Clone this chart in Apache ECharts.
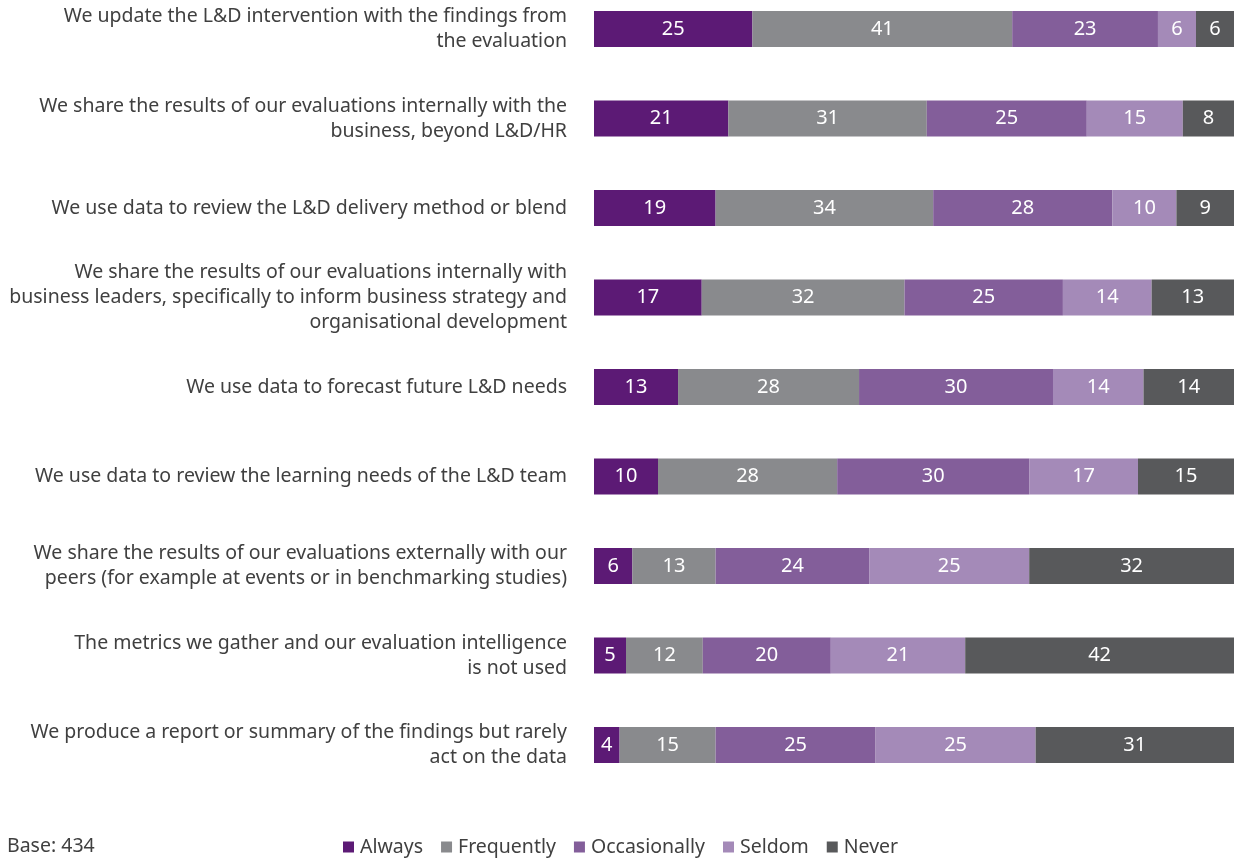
<!DOCTYPE html>
<html>
<head>
<meta charset="utf-8">
<script src="https://cdn.jsdelivr.net/npm/echarts@6/dist/echarts.min.js"></script>
<style>
  html, body { margin: 0; padding: 0; background: #fff; }
  #chart { width: 1234px; height: 859px; }
</style>
</head>
<body>
<div id="chart"></div>
<script>
const categories = [
  'We update the L&D intervention with the findings from\nthe evaluation',
  'We share the results of our evaluations internally with the\nbusiness, beyond L&D/HR',
  'We use data to review the L&D delivery method or blend',
  'We share the results of our evaluations internally with\nbusiness leaders, specifically to inform business strategy and\norganisational development',
  'We use data to forecast future L&D needs',
  'We use data to review the learning needs of the L&D team',
  'We share the results of our evaluations externally with our\npeers (for example at events or in benchmarking studies)',
  'The metrics we gather and our evaluation intelligence\nis not used',
  'We produce a report or summary of the findings but rarely\nact on the data'
]
const always = [25, 21, 19, 17, 13, 10, 6, 5, 4]
const frequently = [41, 31, 34, 32, 28, 28, 13, 12, 15]
const occasionally = [23, 25, 28, 25, 30, 30, 24, 20, 25]
const seldom = [6, 15, 10, 14, 14, 17, 25, 21, 25]
const never = [6, 8, 9, 13, 14, 15, 32, 42, 31]

const seriesNames = ['Always', 'Frequently', 'Occasionally', 'Seldom', 'Never']
const seriesData = [always, frequently, occasionally, seldom, never]
const colors = ['#5c1a75', '#898a8d', '#835e9a', '#a48ab8', '#58595b']

// each row is drawn as a 100% bar, labels keep the rounded values
const rowTotals = categories.map((c, i) => seriesData.reduce((s, arr) => s + arr[i], 0))

const font = 'Noto Sans'

const chart = echarts.init(document.getElementById('chart'))
chart.setOption({
  animation: false,
  color: colors,
  grid: { left: 594, right: 0, top: 29, bottom: 114 },
  legend: {
    data: seriesNames,
    left: 338,
    top: 832,
    itemWidth: 11,
    itemHeight: 11,
    itemGap: 18,
    icon: 'rect',
    textStyle: { fontFamily: font, fontSize: 19.5, color: '#404040', padding: [0, 0, 0, 1] }
  },
  graphic: [{
    type: 'text',
    left: 7,
    top: 836,
    style: { text: 'Base: 434', fontFamily: font, fontSize: 19.5, fill: '#404040' }
  }],
  xAxis: {
    type: 'value',
    min: 0,
    max: 100,
    show: false
  },
  yAxis: {
    type: 'category',
    inverse: true,
    boundaryGap: false,
    data: categories,
    axisLine: { show: false },
    axisTick: { show: false },
    axisLabel: {
      margin: 27,
      fontFamily: font,
      fontSize: 19.5,
      lineHeight: 25,
      color: '#404040',
      align: 'right'
    }
  },
  series: seriesNames.map((name, k) => ({
    name,
    type: 'bar',
    stack: 'all',
    barWidth: 36,
    data: seriesData[k].map((v, i) => ({ value: v / rowTotals[i] * 100, raw: v })),
    label: {
      show: true,
      position: 'inside',
      color: '#fff',
      fontFamily: font,
      fontSize: 20,
      formatter: p => p.data.raw
    }
  }))
})
</script>
</body>
</html>
